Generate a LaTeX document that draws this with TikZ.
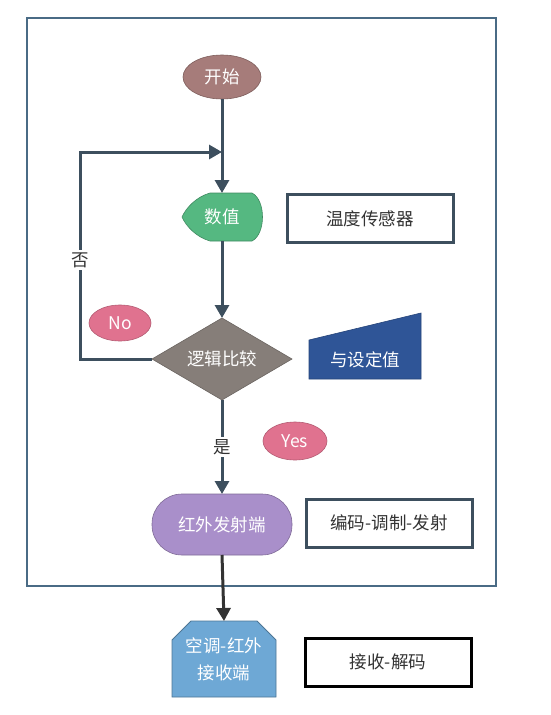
\documentclass[tikz,border=0pt]{standalone}
\usepackage{fontspec}
\setmainfont{Noto Sans CJK SC}
\usetikzlibrary{arrows.meta,shapes.geometric}
\definecolor{framec}{HTML}{4A6B85}
\definecolor{connc}{HTML}{3D4F5E}
\definecolor{startc}{HTML}{A67C7A}
\definecolor{greenc}{HTML}{55B881}
\definecolor{diac}{HTML}{867E79}
\definecolor{pinkc}{HTML}{E0728F}
\definecolor{bluec}{HTML}{2F5597}
\definecolor{purplec}{HTML}{A98FCA}
\definecolor{lightbluec}{HTML}{6EA8D5}
\definecolor{textc}{HTML}{333333}
\begin{document}
\begin{tikzpicture}[x=1pt,y=-1pt,
  every node/.style={font=\fontsize{17.5}{22}\selectfont, inner sep=0pt, outer sep=0pt},
  conn/.style={draw=connc, line width=3pt, -{Triangle[length=13pt,width=14pt]}},
  infobox/.style={draw=connc, line width=3pt, fill=white, text=textc, minimum width=166pt, minimum height=48pt},
  tag/.style={ellipse, fill=pinkc, draw=pinkc!80!black, line width=0.6pt, text=white, minimum width=62pt, minimum height=36pt},
  lbl/.style={fill=white, text=textc, inner sep=2pt}
]
\useasboundingbox (0,0) rectangle (550,715);
% outer frame
\draw[framec, line width=2.5pt] (27,18) rectangle (496,586);

% shapes drawn directly
\draw[fill=greenc, draw=greenc!75!black, line width=0.6pt]
  (210,193) -- (252,193) .. controls (266,200) and (266,234) .. (252,241)
  -- (210,241) .. controls (196,237) and (186,226) .. (182,217)
  .. controls (186,208) and (196,197) .. (210,193) -- cycle;
\draw[fill=diac, draw=diac!80!black, line width=0.6pt]
  (152,359) -- (222,318) -- (292,359) -- (222,400) -- cycle;
\draw[fill=bluec, draw=bluec!80!black, line width=0.6pt]
  (309,340) -- (421,313) -- (421,379) -- (309,379) -- cycle;
\draw[fill=purplec, draw=purplec!75!black, line width=0.6pt, rounded corners=30pt]
  (152,494) rectangle (292,555);
\draw[fill=lightbluec, draw=lightbluec!70!black, line width=0.8pt]
  (172,640) -- (191,621) -- (257,621) -- (276,640) -- (276,697) -- (172,697) -- cycle;

% nodes
\node[ellipse, fill=startc, draw=startc!75!black, line width=0.6pt, text=white,
  minimum width=78pt, minimum height=44pt] (start) at (222,77) {开始};
\node[rectangle, minimum width=82pt, minimum height=48pt, text=white] (disp) at (222,217) {数值};
\node[rectangle, minimum width=140pt, minimum height=82pt, text=white] (dia) at (222,359) {逻辑比较};
\node[rectangle, minimum width=140pt, minimum height=61pt, text=white] (send) at (222,524.5) {红外发射端};
\node[rectangle, minimum width=104pt, minimum height=76pt, text=white, align=center,
  font=\fontsize{17.5}{27}\selectfont] (recv) at (224,659) {空调-红外\\接收端};
\node[rectangle, minimum width=112pt, minimum height=39pt, text=white] (cmp) at (365,360) {与设定值};

\node[infobox] (sensor) at (370,218.5) {温度传感器};
\node[infobox] (enc) at (389,523) {编码-调制-发射};
\node[infobox, draw=black] (dec) at (388,662) {接收-解码};

\node[tag] (no) at (120,323) {No};
\node[tag, minimum width=64pt, minimum height=38pt] (yes) at (295,441) {Yes};

\coordinate (merge) at (222,152);
\coordinate (cl) at (80,359);
\coordinate (ct) at (80,152);

% connectors
\draw[conn] (start.south) -- (disp.north);
\draw[conn] (disp.south) -- (dia.north);
\draw[conn] (dia.west) -- (cl) -- (ct) -- (merge);
\draw[conn] (dia.south) -- (send.north);
\draw[conn, draw=textc] (send.south) -- (recv.north);

\node[lbl] (nolbl) at (80,260) {否};
\node[lbl] (yeslbl) at (222,447) {是};
\end{tikzpicture}
\end{document}
